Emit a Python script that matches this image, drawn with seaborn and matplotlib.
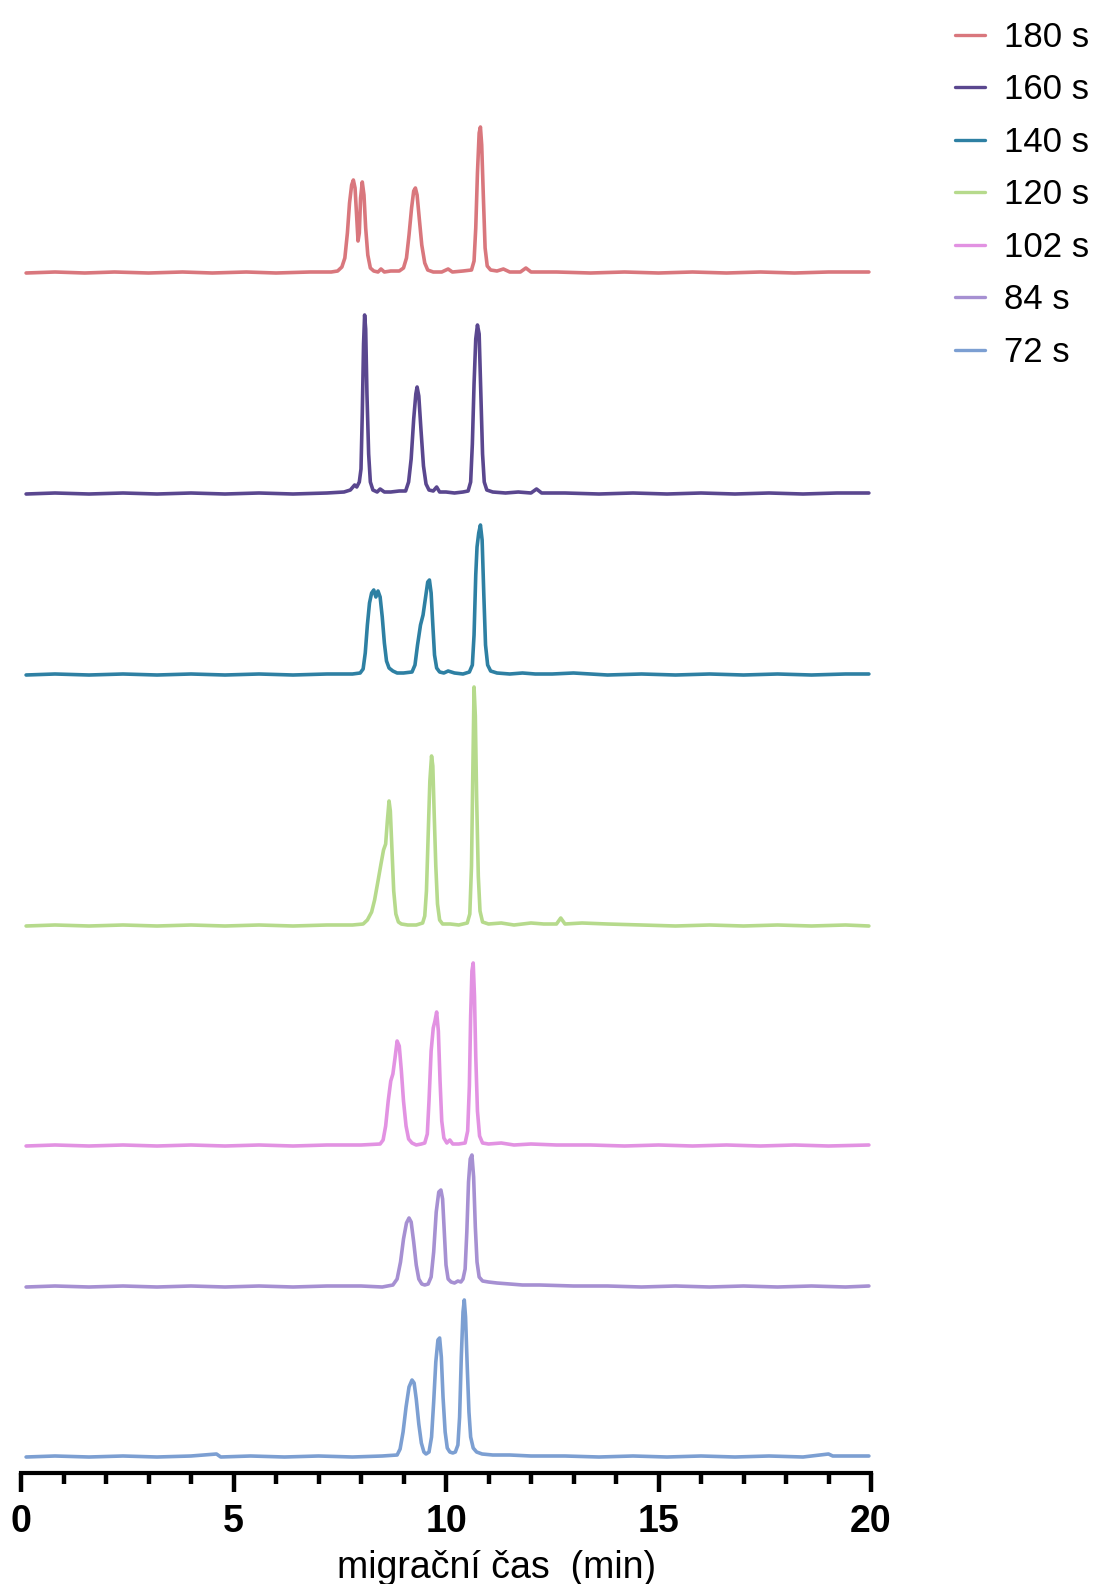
import matplotlib
matplotlib.use("Agg")
import matplotlib.pyplot as plt
import seaborn as sns
import pandas as pd

# ---------------- data ----------------
labels = ["180 s", "160 s", "140 s", "120 s", "102 s", "84 s", "72 s"]
colors = ["#d9777d", "#5a478f", "#2e80a3", "#b6da8c", "#e292e2", "#a690d2", "#7c9fd2"]

# migration time (min) / signal (a.u.) points
x_180 = [0.12, 0.8, 1.5, 2.2, 3.0, 3.8, 4.5, 5.3, 6.0, 6.8, 7.3, 7.45, 7.55, 7.62, 7.68, 7.73, 7.78, 7.82,
         7.86, 7.9, 7.93, 7.96, 7.99, 8.03, 8.07, 8.11, 8.16, 8.22, 8.3, 8.4, 8.47, 8.55, 8.7, 8.9, 9.0,
         9.07, 9.13, 9.19, 9.24, 9.28, 9.32, 9.37, 9.43, 9.5, 9.57, 9.7, 9.9, 10.05, 10.15, 10.4, 10.6,
         10.66, 10.7, 10.74, 10.78, 10.81, 10.84, 10.88, 10.92, 10.97, 11.05, 11.2, 11.35, 11.5, 11.75,
         11.88, 12.0, 12.6, 13.4, 14.2, 15.0, 15.8, 16.6, 17.4, 18.2, 19.0, 19.95]
y_180 = [0, 1, 0, 1, 0, 1, 0, 1, 0, 1, 1, 2, 6, 15, 40, 70, 88, 93,
         85, 55, 32, 40, 75, 91, 78, 45, 18, 5, 2, 1, 4, 1, 2, 2, 5,
         15, 38, 65, 82, 85, 78, 55, 28, 10, 3, 1, 1, 4, 1, 2, 3,
         12, 45, 100, 140, 146, 128, 75, 25, 7, 3, 2, 4, 1, 1,
         5, 1, 1, 0, 1, 0, 1, 0, 1, 0, 1, 1]

x_160 = [0.12, 0.8, 1.6, 2.4, 3.2, 4.0, 4.8, 5.6, 6.4, 7.2, 7.6, 7.75, 7.85, 7.9, 7.96, 8.0, 8.03, 8.06,
         8.085, 8.11, 8.14, 8.18, 8.22, 8.28, 8.38, 8.45, 8.55, 8.7, 8.9, 9.05, 9.12, 9.18, 9.24, 9.29,
         9.32, 9.36, 9.41, 9.47, 9.53, 9.6, 9.7, 9.78, 9.85, 10.0, 10.2, 10.4, 10.52, 10.58, 10.62, 10.66,
         10.7, 10.74, 10.78, 10.82, 10.86, 10.9, 10.96, 11.1, 11.4, 11.7, 12.0, 12.13, 12.25, 12.8, 13.6,
         14.4, 15.2, 16.0, 16.8, 17.6, 18.4, 19.2, 19.95]
y_160 = [0, 1, 0, 1, 0, 1, 0, 1, 0, 1, 2, 4, 9, 7, 12, 25, 80, 150,
         179, 165, 100, 40, 12, 4, 2, 5, 2, 2, 3, 3, 12, 35, 75, 100,
         107, 98, 65, 28, 10, 4, 3, 7, 2, 2, 1, 2, 3, 12, 50, 110,
         155, 169, 160, 100, 40, 12, 4, 2, 1, 2, 1, 5, 1, 1, 0,
         1, 0, 1, 0, 1, 0, 1, 1]

x_140 = [0.12, 0.8, 1.6, 2.4, 3.2, 4.0, 4.8, 5.6, 6.4, 7.2, 7.8, 7.98, 8.05, 8.1, 8.15, 8.2, 8.25, 8.3,
         8.35, 8.4, 8.45, 8.5, 8.55, 8.6, 8.66, 8.75, 8.85, 9.0, 9.2, 9.27, 9.33, 9.4, 9.46, 9.52, 9.57,
         9.61, 9.65, 9.69, 9.73, 9.78, 9.85, 9.95, 10.05, 10.2, 10.4, 10.55, 10.62, 10.66, 10.7, 10.73,
         10.77, 10.81, 10.85, 10.89, 10.93, 10.98, 11.05, 11.2, 11.5, 11.8, 12.1, 12.5, 13.0, 13.8, 14.6,
         15.4, 16.2, 17.0, 17.8, 18.6, 19.4, 19.95]
y_140 = [0, 1, 0, 1, 0, 1, 0, 1, 0, 1, 1, 2, 6, 22, 50, 72, 82, 85,
         78, 84, 78, 58, 32, 14, 7, 4, 2, 2, 3, 10, 30, 50, 60, 78, 93,
         95, 82, 50, 20, 7, 3, 2, 4, 2, 1, 3, 10, 40, 100, 128,
         142, 150, 135, 80, 30, 10, 4, 2, 1, 2, 1, 1, 2, 0, 1,
         0, 1, 0, 1, 0, 1, 1]

x_120 = [0.12, 0.8, 1.6, 2.4, 3.2, 4.0, 4.8, 5.6, 6.4, 7.2, 7.8, 8.05, 8.15, 8.25, 8.32, 8.4, 8.47, 8.53,
         8.58, 8.62, 8.66, 8.69, 8.73, 8.77, 8.82, 8.88, 8.95, 9.1, 9.3, 9.45, 9.5, 9.54, 9.58, 9.62, 9.66,
         9.69, 9.72, 9.76, 9.8, 9.85, 9.92, 10.1, 10.3, 10.5, 10.56, 10.6, 10.63, 10.66, 10.69, 10.72,
         10.76, 10.8, 10.86, 11.0, 11.3, 11.6, 12.0, 12.3, 12.6, 12.7, 12.8, 13.2, 13.8, 14.6, 15.4,
         16.2, 17.0, 17.8, 18.6, 19.4, 19.95]
y_120 = [0, 1, 0, 1, 0, 1, 0, 1, 0, 1, 1, 2, 6, 14, 26, 45, 62, 76,
         82, 105, 125, 115, 75, 35, 12, 4, 2, 1, 1, 3, 10, 35, 90, 145, 170,
         160, 115, 60, 22, 6, 2, 2, 1, 3, 12, 60, 150, 239, 210, 130,
         50, 15, 4, 2, 3, 1, 3, 2, 2, 8, 2, 3, 2, 1, 0,
         1, 0, 1, 0, 1, 0]

x_102 = [0.12, 0.8, 1.6, 2.4, 3.2, 4.0, 4.8, 5.6, 6.4, 7.2, 8.0, 8.45, 8.52, 8.58, 8.64, 8.7, 8.75, 8.8,
         8.85, 8.9, 8.95, 9.0, 9.06, 9.12, 9.2, 9.3, 9.42, 9.5, 9.56, 9.6, 9.65, 9.7, 9.74, 9.78, 9.82,
         9.86, 9.9, 9.95, 10.02, 10.09, 10.16, 10.3, 10.45, 10.51, 10.55, 10.58, 10.61, 10.64, 10.67,
         10.7, 10.74, 10.79, 10.86, 11.0, 11.3, 11.6, 12.0, 12.6, 13.4, 14.2, 15.0, 15.8, 16.6, 17.4,
         18.2, 19.0, 19.95]
y_102 = [0, 1, 0, 1, 0, 1, 0, 1, 0, 1, 1, 2, 6, 20, 45, 65, 72, 88,
         105, 100, 75, 45, 20, 7, 3, 1, 2, 3, 12, 45, 95, 118, 125, 134, 115,
         65, 25, 8, 3, 6, 2, 2, 3, 15, 60, 130, 175, 183, 150,
         90, 35, 10, 3, 2, 3, 1, 2, 1, 1, 0, 1, 0, 1, 0,
         1, 0, 1]

x_84 = [0.12, 0.8, 1.6, 2.4, 3.2, 4.0, 4.8, 5.6, 6.4, 7.2, 8.0, 8.5, 8.75, 8.85, 8.93, 9.0, 9.07, 9.13,
        9.18, 9.24, 9.3, 9.36, 9.43, 9.5, 9.58, 9.65, 9.71, 9.77, 9.83, 9.88, 9.92, 9.96, 10.0, 10.05,
        10.12, 10.2, 10.28, 10.35, 10.4, 10.45, 10.49, 10.53, 10.57, 10.61, 10.65, 10.69, 10.73, 10.78,
        10.86, 11.0, 11.2, 11.5, 11.8, 12.2, 13.0, 13.8, 14.6, 15.4, 16.2, 17.0, 17.8, 18.6, 19.4, 19.95]
y_84 = [0, 1, 0, 1, 0, 1, 0, 1, 0, 1, 1, 0, 2, 8, 25, 48, 64, 69,
        65, 45, 22, 8, 3, 2, 3, 10, 35, 75, 95, 97, 88, 55, 22, 8,
        5, 4, 6, 5, 8, 18, 55, 105, 128, 132, 110, 60, 25, 10,
        6, 5, 4, 3, 2, 2, 1, 1, 0, 1, 0, 1, 0, 1, 0, 1]

x_72 = [0.12, 0.8, 1.6, 2.4, 3.2, 4.0, 4.6, 4.7, 5.4, 6.2, 7.0, 7.8, 8.5, 8.85, 8.92, 8.99, 9.06, 9.13,
        9.2, 9.25, 9.3, 9.36, 9.42, 9.48, 9.53, 9.6, 9.66, 9.71, 9.76, 9.81, 9.85, 9.89, 9.93, 9.98,
        10.03, 10.09, 10.16, 10.22, 10.28, 10.32, 10.36, 10.4, 10.43, 10.46, 10.5, 10.54, 10.58, 10.64,
        10.72, 10.85, 11.1, 11.5, 12.0, 12.8, 13.6, 14.4, 15.2, 16.0, 16.8, 17.6, 18.4, 19.0, 19.1, 19.95]
y_72 = [0, 1, 0, 1, 0, 1, 3, 0, 1, 0, 1, 0, 1, 2, 8, 25, 50, 70,
        77, 74, 58, 33, 14, 5, 3, 5, 20, 55, 95, 117, 119, 100, 60, 25,
        9, 5, 4, 5, 12, 40, 100, 145, 157, 140, 90, 45, 20, 9,
        5, 3, 2, 2, 1, 1, 0, 1, 0, 1, 0, 1, 0, 3, 1, 1]

# vertical stacking offsets of each trace (layout)
offsets = [1200, 979, 798, 547, 327, 186, 16]

# ---------------- build long table ----------------
xs = [x_180, x_160, x_140, x_120, x_102, x_84, x_72]
ys = [y_180, y_160, y_140, y_120, y_102, y_84, y_72]
frames = []
for lab, xv, yv, off in zip(labels, xs, ys, offsets):
    frames.append(pd.DataFrame({"t": xv, "signal": [v + off for v in yv], "series": lab}))
df = pd.concat(frames, ignore_index=True)

# ---------------- figure ----------------
sns.set_style("white")
plt.rcParams["font.family"] = ["Liberation Sans", "DejaVu Sans"]
plt.rcParams["text.color"] = "black"
plt.rcParams["axes.labelcolor"] = "black"
plt.rcParams["xtick.color"] = "black"
plt.rcParams["xtick.labelcolor"] = "black"

W, H = 1102, 1584
fig = plt.figure(figsize=(W / 100, H / 100), dpi=100)
ax_top_px = 100
ax = fig.add_axes([21 / W, (H - 1473) / H, 850 / W, (1473 - ax_top_px) / H])

sns.lineplot(data=df, x="t", y="signal", hue="series", hue_order=labels,
             palette=colors, estimator=None, sort=False, linewidth=2.6, ax=ax)

ax.set_xlim(0, 20)
ax.set_ylim(0, 1473 - ax_top_px)
for s in ["top", "right", "left"]:
    ax.spines[s].set_visible(False)
ax.spines["bottom"].set_linewidth(3)
ax.spines["bottom"].set_color("black")
ax.set_yticks([])
ax.set_xticks([0, 5, 10, 15, 20])
ax.set_xticks(list(range(0, 21)), minor=True)
ax.tick_params(axis="x", which="both", bottom=True, top=False)
ax.tick_params(axis="x", which="major", length=14, width=3.2, color="black",
               direction="out", pad=8, labelcolor="black")
ax.tick_params(axis="x", which="minor", length=8, width=3.2, color="black", direction="out")
for lbl in ax.get_xticklabels():
    lbl.set_fontfamily(["Liberation Sans Narrow", "Liberation Sans", "DejaVu Sans"])
    lbl.set_fontweight("bold")
    lbl.set_fontsize(27)
    lbl.set_color("black")
ax.set_xlabel("migrační čas  (min)", fontsize=27, color="black")
ax.xaxis.set_label_coords(0.56, -0.056)
ax.set_ylabel("")

handles, hl = ax.get_legend_handles_labels()
leg = ax.legend(handles, hl, loc="upper left", bbox_to_anchor=(955 / W, 1 - 21 / H),
                bbox_transform=fig.transFigure, frameon=False, fontsize=25,
                handlelength=0.85, handletextpad=0.55, labelspacing=0.56, borderpad=0,
                borderaxespad=0)
for line in leg.get_lines():
    line.set_linewidth(2.4)
for t in leg.get_texts():
    t.set_color("black")

fig.savefig("out.png", dpi=100)
